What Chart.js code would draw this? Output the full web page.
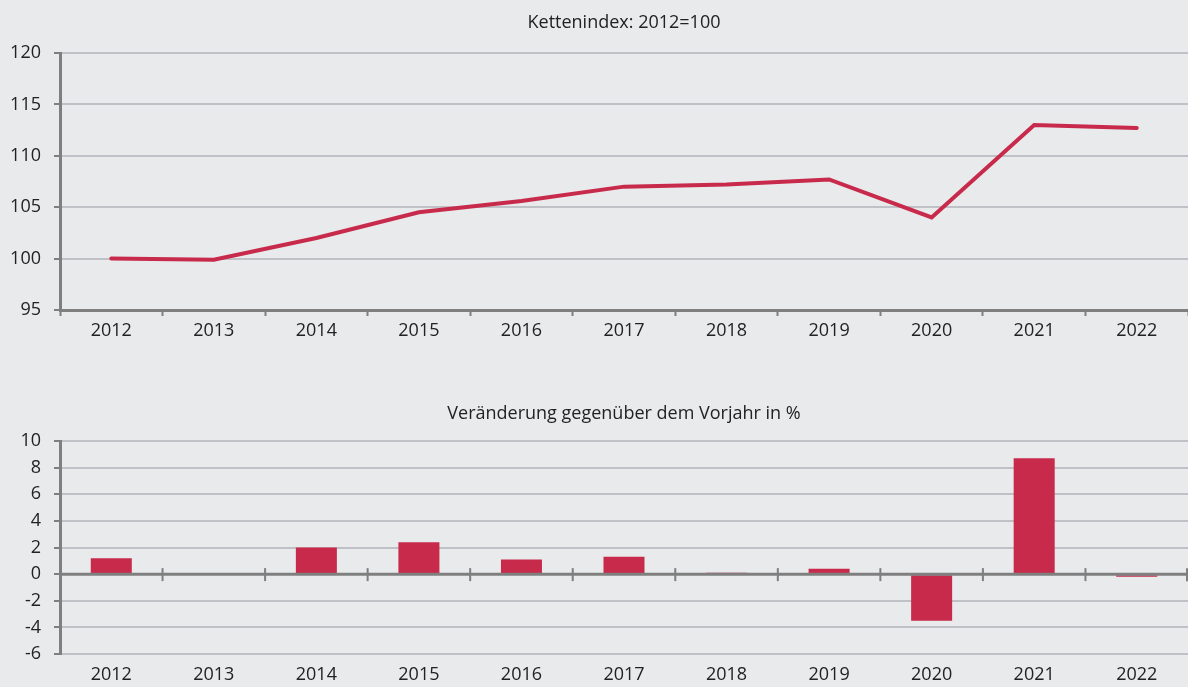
<!DOCTYPE html>
<html>
<head>
<meta charset="utf-8">
<script src="https://cdn.jsdelivr.net/npm/chart.js@4/dist/chart.umd.min.js"></script>
<style>
  html, body { margin: 0; padding: 0; background: #e9eaec; }
  body { width: 1188px; height: 687px; position: relative; overflow: hidden; }
  canvas { position: absolute; left: 0; }
  #c1 { top: 0; }
  #c2 { top: 380px; }
</style>
</head>
<body>
<canvas id="c1" width="1188" height="345"></canvas>
<canvas id="c2" width="1188" height="307"></canvas>
<script>
const years = ['2012','2013','2014','2015','2016','2017','2018','2019','2020','2021','2022'];
const indexValues = [100.0, 99.9, 102.0, 104.5, 105.6, 107.0, 107.2, 107.7, 104.0, 113.0, 112.7];
const changeValues = [1.2, 0.0, 2.0, 2.4, 1.1, 1.3, 0.1, 0.4, -3.5, 8.7, -0.2];
const topTitle = 'Kettenindex: 2012=100';
const bottomTitle = 'Veränderung gegenüber dem Vorjahr in %';

const RED = '#c82a4b';
const AXIS = '#7f7f80';
const GRID = '#c0c1c6';
const TEXT = '#222222';
const FONT = 'Open Sans';

Chart.defaults.font.family = FONT;
Chart.defaults.color = TEXT;
Chart.defaults.devicePixelRatio = 1;

function yAxis(min, max, step) {
  return {
    min: min, max: max,
    afterFit: s => { s.width = 60; },
    ticks: { stepSize: step, font: { size: 18 }, color: TEXT, padding: 13 },
    grid: { color: GRID, lineWidth: 2, tickColor: AXIS, tickLength: 6, tickWidth: 2 },
    border: { color: AXIS, width: 3 }
  };
}

new Chart(document.getElementById('c1'), {
  type: 'line',
  data: {
    labels: years,
    datasets: [{
      data: indexValues,
      borderColor: RED,
      borderWidth: 4,
      pointRadius: 0,
      tension: 0,
      borderCapStyle: 'round',
      borderJoinStyle: 'miter'
    }]
  },
  options: {
    responsive: false,
    animation: false,
    layout: { padding: { left: 0, right: 0, top: 0, bottom: 0 } },
    plugins: {
      legend: { display: false },
      tooltip: { enabled: false },
      title: {
        display: true, text: topTitle, fullSize: false,
        font: { size: 18, weight: 'normal' }, color: TEXT,
        padding: { top: 12, bottom: 19.4 }
      }
    },
    scales: {
      x: {
        offset: true,
        afterFit: s => { s.height = 35; },
        ticks: { font: { size: 18 }, color: TEXT, padding: 4 },
        grid: { offset: true, drawOnChartArea: false, tickLength: 6, tickColor: AXIS, tickWidth: 2 },
        border: { color: AXIS, width: 3 }
      },
      y: yAxis(95, 120, 5)
    }
  }
});

const zeroLinePlugin = {
  id: 'zeroLine',
  afterDatasetsDraw(chart) {
    const ctx = chart.ctx;
    const xs = chart.scales.x, ys = chart.scales.y;
    const y0 = ys.getPixelForValue(0);
    ctx.save();
    ctx.strokeStyle = AXIS;
    ctx.lineWidth = 3;
    ctx.beginPath();
    ctx.moveTo(chart.chartArea.left, y0);
    ctx.lineTo(chart.chartArea.right, y0);
    ctx.stroke();
    ctx.lineWidth = 2;
    const n = xs.getLabels().length;
    const w = (xs.right - xs.left) / n;
    for (let i = 1; i <= n; i++) {
      const x = Math.min(xs.left + i * w, chart.chartArea.right - 1);
      ctx.beginPath();
      ctx.moveTo(x, y0 - 6);
      ctx.lineTo(x, y0 + 7);
      ctx.stroke();
    }
    ctx.restore();
  }
};

new Chart(document.getElementById('c2'), {
  type: 'bar',
  data: {
    labels: years,
    datasets: [{
      data: changeValues,
      backgroundColor: RED,
      borderWidth: 0,
      categoryPercentage: 1.0,
      barPercentage: 0.4
    }]
  },
  options: {
    responsive: false,
    animation: false,
    layout: { padding: 0 },
    plugins: {
      legend: { display: false },
      tooltip: { enabled: false },
      title: {
        display: true, text: bottomTitle, fullSize: false,
        font: { size: 18, weight: 'normal' }, color: TEXT,
        padding: { top: 23, bottom: 16.4 }
      }
    },
    scales: {
      x: {
        afterFit: s => { s.height = 33; },
        ticks: { font: { size: 18 }, color: TEXT, padding: 2 },
        grid: { display: false },
        border: { display: false }
      },
      y: yAxis(-6, 10, 2)
    }
  },
  plugins: [zeroLinePlugin]
});
</script>
</body>
</html>
